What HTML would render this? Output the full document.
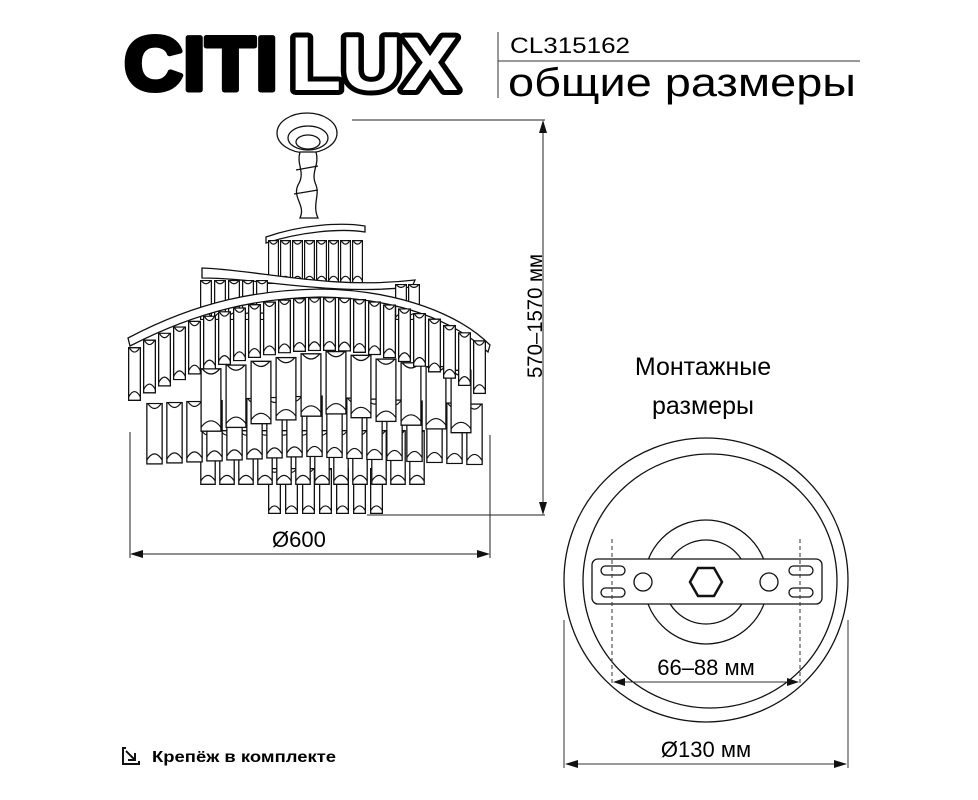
<!DOCTYPE html>
<html><head><meta charset="utf-8"><style>
html,body{margin:0;padding:0;background:#fff;}
svg{display:block;}
text{font-family:"Liberation Sans",sans-serif;}
</style></head><body>
<svg id="s" width="978" height="800" viewBox="0 0 978 800" xmlns="http://www.w3.org/2000/svg">
<defs>
<symbol id="p" viewBox="0 0 10 40" preserveAspectRatio="none">
<rect x="0.5" y="0.5" width="9" height="39" fill="#fff" stroke="#111" stroke-width="1.3" vector-effect="non-scaling-stroke"/>
<path d="M0.5 37 Q5 29 9.5 37" fill="none" stroke="#111" stroke-width="1.2" vector-effect="non-scaling-stroke"/>
<path d="M1 0.5 Q5 7 9 0.5" fill="none" stroke="#111" stroke-width="1.2" vector-effect="non-scaling-stroke"/>
</symbol>
</defs>
<!-- header -->
<text x="124" y="90" font-size="76" font-weight="bold" textLength="154" lengthAdjust="spacingAndGlyphs" fill="#000" stroke="#000" stroke-width="5" stroke-linejoin="round">CITI</text>
<text x="290" y="90" font-size="76" font-weight="bold" textLength="168" lengthAdjust="spacingAndGlyphs" fill="#fff" stroke="#000" stroke-width="10" stroke-linejoin="round" paint-order="stroke">LUX</text>
<line x1="498" y1="32" x2="498" y2="98" stroke="#333" stroke-width="1"/>
<line x1="498" y1="61" x2="860" y2="61" stroke="#333" stroke-width="1"/>
<text x="510" y="53" font-size="22" textLength="120" lengthAdjust="spacingAndGlyphs">CL315162</text>
<text x="508" y="96" font-size="40" textLength="348" lengthAdjust="spacingAndGlyphs">общие размеры</text>
<g id="ch" stroke="#111" fill="none" stroke-width="1.3">
<ellipse cx="307" cy="133" rx="30" ry="20" fill="#fff"/>
<ellipse cx="308" cy="138" rx="20" ry="12"/>
<ellipse cx="308" cy="142" rx="12" ry="7"/>
<path d="M300 152 C296 165 306 172 298 185 C292 198 306 205 300 218 L318 218 C312 205 320 195 316 185 C310 172 320 165 316 152 Z" fill="#fff"/>
<path d="M296 170 L318 166 M294 194 L318 190"/>
</g>
<g id="pend"></g>
<!-- dimensions chandelier -->
<g stroke="#222" stroke-width="1">
<line x1="352" y1="120" x2="545" y2="120"/>
<line x1="367" y1="515" x2="545" y2="515"/>
<line x1="543" y1="124" x2="543" y2="511"/>
<line x1="130" y1="432" x2="130" y2="558"/>
<line x1="490" y1="435" x2="490" y2="558"/>
<line x1="134" y1="554" x2="486" y2="554"/>
</g>
<g fill="#111">
<path d="M543 120 L539 133 L547 133 Z"/><path d="M543 515 L539 502 L547 502 Z"/>
<path d="M130 554 L143 550 L143 558 Z"/><path d="M490 554 L477 550 L477 558 Z"/>
</g>
<text x="272" y="547" font-size="22">Ø600</text>
<text transform="translate(542,378) rotate(-90)" font-size="21" textLength="124" lengthAdjust="spacingAndGlyphs">570–1570 мм</text>
<text x="703" y="375" font-size="25" text-anchor="middle">Монтажные</text>
<text x="703" y="414" font-size="25" text-anchor="middle">размеры</text>
<!-- mount -->
<g stroke="#111" fill="none" stroke-width="1.3">
<circle cx="706" cy="580" r="142"/>
<circle cx="710" cy="581" r="127"/>
<circle cx="706" cy="582" r="62"/>
<circle cx="706" cy="582" r="42"/>
<rect x="592" y="559" width="230" height="45" rx="6" fill="#fff"/>
<rect x="601" y="566" width="24" height="9" rx="4.5"/>
<rect x="601" y="588" width="24" height="9" rx="4.5"/>
<rect x="789" y="566" width="24" height="9" rx="4.5"/>
<rect x="789" y="588" width="24" height="9" rx="4.5"/>
<circle cx="643" cy="582" r="9"/><circle cx="769" cy="582" r="9"/>
<polygon points="690,582 698,568 714,568 722,582 714,596 698,596" stroke-width="2.5"/>
</g>
<g stroke="#333" stroke-width="1">
<line x1="612" y1="539" x2="612" y2="684" stroke-dasharray="4,3"/>
<line x1="800" y1="539" x2="800" y2="684" stroke-dasharray="4,3"/>
<line x1="614" y1="682" x2="798" y2="682"/>
<line x1="564" y1="620" x2="564" y2="768"/>
<line x1="848" y1="620" x2="848" y2="768"/>
<line x1="566" y1="764" x2="846" y2="764"/>
</g>
<g fill="#111">
<path d="M613 682 L625 678 L625 686 Z"/><path d="M799 682 L787 678 L787 686 Z"/>
<path d="M565 764 L578 760 L578 768 Z"/><path d="M847 764 L834 760 L834 768 Z"/>
</g>
<text x="706" y="675" font-size="22" text-anchor="middle">66–88 мм</text>
<text x="706" y="757" font-size="22" text-anchor="middle">Ø130 мм</text>
<!-- footer -->
<g stroke="#111" stroke-width="2" fill="none">
<path d="M126 748 L123 748 L123 764 L139 764 L139 761"/>
<path d="M126 751 L135 760 M135 753 L135 760 L128 760"/>
</g>
<text x="152" y="762" font-size="16" font-weight="bold" textLength="184" lengthAdjust="spacingAndGlyphs">Крепёж в комплекте</text>
<script>
(function(){
var NS="http://www.w3.org/2000/svg",g=document.getElementById("pend");
function P(x,y,w,h){var u=document.createElementNS(NS,"use");u.setAttribute("href","#p");u.setAttributeNS("http://www.w3.org/1999/xlink","xlink:href","#p");u.setAttribute("x",x);u.setAttribute("y",y);u.setAttribute("width",w);u.setAttribute("height",h);g.appendChild(u);}
function band(d){var p=document.createElementNS(NS,"path");p.setAttribute("d",d);p.setAttribute("fill","#fff");p.setAttribute("stroke","#111");p.setAttribute("stroke-width","1.3");g.appendChild(p);}
var x;
for(x=268;x<=380;x+=17)P(x,468,13,46);
for(x=200;x<=410;x+=19)P(x,430,16,55);
for(x=146;x<=478;x+=20)P(x,395+Math.abs(x-300)*0.05,17,62);
for(x=200;x<=450;x+=25)P(x,350+Math.abs(x-320)*0.15,22,64);
band("M266 237 C300 225 340 222 365 226 L365 232 C340 228 300 232 266 243 Z");
for(x=268;x<=356;x+=12)P(x,240,11,44);
band("M202 268 C260 270 330 290 415 280 L412 287 C330 296 260 278 202 278 Z");
for(x=200;x<=262;x+=14)P(x,280,12,40);
for(x=395;x<=420;x+=13)P(x,284,12,36);
band("M128 338 C200 300 260 290 320 289 C400 290 460 315 490 345 L488 352 C455 322 400 298 320 297 C260 298 200 310 130 346 Z");
for(x=128;x<=486;x+=15){var y=x<320?297+Math.pow((320-x)/192,2)*50:297+Math.pow((x-320)/168,2)*52;P(x,y,13,54);}
})();
</script>
</svg>
</body></html>
